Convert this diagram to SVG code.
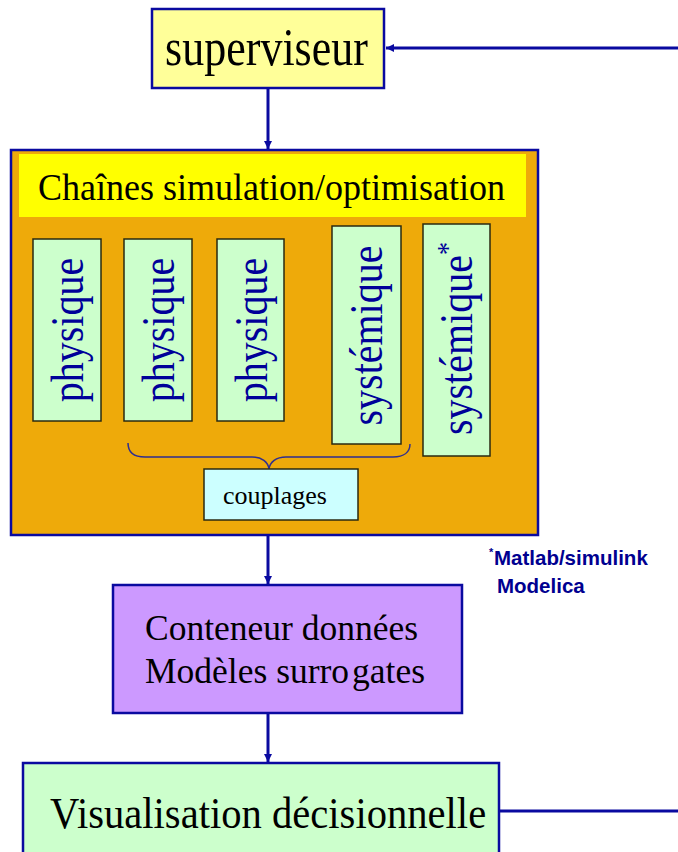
<svg xmlns="http://www.w3.org/2000/svg" width="678" height="852" viewBox="0 0 678 852">
<style>
.serif{font-family:"Liberation Serif","Times New Roman",serif;}
.blk{fill:#000000;}
.vt{fill:#000099;font-size:40px;}
.conn{stroke:#0A0AA0;stroke-width:3;fill:none;}
.node{stroke:#0A0AA0;stroke-width:2.5;}
.sub{stroke:#2A2A10;stroke-width:1.5;fill:#CCFFCC;}
</style>
<defs>
<marker id="ah" markerWidth="10" markerHeight="10" refX="8" refY="5" orient="auto" markerUnits="userSpaceOnUse">
<path d="M0,1 L8,5 L0,9 Z" fill="#0A0AA0"/>
</marker>
</defs>
<rect width="678" height="852" fill="#FFFFFF"/>
<g id="connectors">
<line class="conn" x1="678" y1="48" x2="386" y2="48" marker-end="url(#ah)"/>
<line class="conn" x1="268" y1="88" x2="268" y2="149" marker-end="url(#ah)"/>
<line class="conn" x1="268" y1="536" x2="268" y2="584" marker-end="url(#ah)"/>
<line class="conn" x1="268" y1="714" x2="268" y2="762" marker-end="url(#ah)"/>
<line class="conn" x1="499" y1="811" x2="678" y2="811"/>
</g>
<g id="superviseur">
<rect class="node" x="152" y="9" width="232" height="79" fill="#FFFF99"/>
<text class="serif blk" transform="translate(266.5,65) scale(1,1.22)" font-size="44" text-anchor="middle">superviseur</text>
</g>
<g id="chaines">
<rect class="node" x="11" y="150" width="527" height="385" fill="#EEAA0A"/>
<rect x="19" y="154" width="507" height="63" fill="#FFFF00"/>
<text class="serif blk" transform="translate(271.5,200) scale(1,1.05)" font-size="36" text-anchor="middle">Chaînes simulation/optimisation</text>
</g>
<g id="physique1">
<rect class="sub" x="33" y="239" width="68" height="182"/>
<text class="serif vt" transform="translate(83,330) rotate(-90) scale(1,1.15)" text-anchor="middle">physique</text>
</g>
<g id="physique2">
<rect class="sub" x="124" y="239" width="68" height="182"/>
<text class="serif vt" transform="translate(174,330) rotate(-90) scale(1,1.15)" text-anchor="middle">physique</text>
</g>
<g id="physique3">
<rect class="sub" x="217" y="239" width="67" height="182"/>
<text class="serif vt" transform="translate(267,330) rotate(-90) scale(1,1.15)" text-anchor="middle">physique</text>
</g>
<g id="systemique1">
<rect class="sub" x="332" y="226" width="69" height="218"/>
<text class="serif vt" transform="translate(382,335.5) rotate(-90) scale(1,1.15)" text-anchor="middle">systémique</text>
</g>
<g id="systemique2">
<rect class="sub" x="423" y="224" width="67" height="232"/>
<text class="serif vt" transform="translate(472,435) rotate(-90) scale(1,1.15)">systémique<tspan font-size="26" dy="-13">*</tspan></text>
</g>
<g id="brace">
<path d="M128,443 C128,452 134,457 145,457 L252,457 C262,457 268,462 269,469 C270,462 276,457 286,457 L393,457 C404,457 410,452 410,444" stroke="#2E2E90" stroke-width="1.5" fill="none"/>
</g>
<g id="couplages">
<rect x="204" y="469" width="154" height="51" fill="#CCFFFF" stroke="#2A2A10" stroke-width="1.5"/>
<text class="serif blk" x="275" y="504" font-size="26" text-anchor="middle">couplages</text>
</g>
<g id="footnote">
<text font-family="Liberation Sans, Arial, sans-serif" font-weight="bold" fill="#000090" font-size="20.5"><tspan x="489" y="556" font-size="11">*</tspan><tspan x="494" y="565">Matlab/simulink</tspan><tspan x="497" y="593">Modelica</tspan></text>
</g>
<g id="conteneur">
<rect class="node" x="113" y="585" width="349" height="128" fill="#CC99FF"/>
<text class="serif blk" font-size="35.5"><tspan x="145" y="640">Conteneur données</tspan><tspan x="145" y="683">Modèles surro<tspan dx="3">gates</tspan></tspan></text>
</g>
<g id="visualisation">
<rect class="node" x="23" y="763" width="476" height="100" fill="#CCFFCC"/>
<text class="serif blk" transform="translate(50,828) scale(1.015,1.12)" font-size="40">Visualisation décisionnelle</text>
</g>
</svg>
